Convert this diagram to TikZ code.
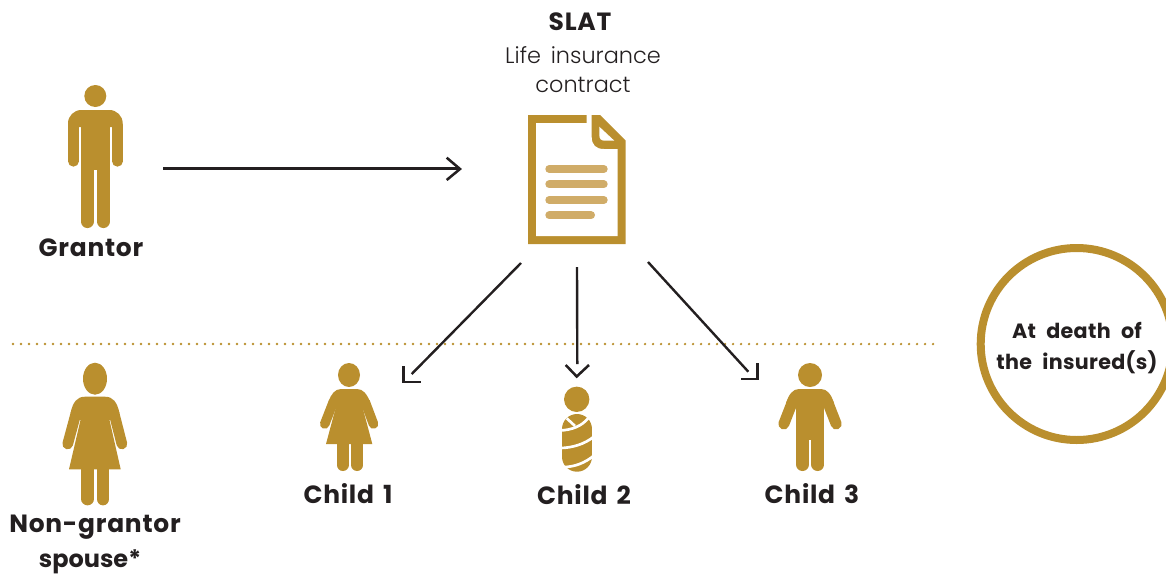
\documentclass[tikz,border=0pt]{standalone}
\usepackage{fontspec}
\setmainfont{Poppins}[LetterSpace=3,WordSpace=1.5]
\newfontfamily\lightf{Poppins Light}[WordSpace=1.6]
\newfontfamily\smallf{Poppins}[LetterSpace=1.5,WordSpace=2.2]
\newfontfamily\tightf{Poppins}
\usetikzlibrary{arrows.meta}
\definecolor{gold}{HTML}{BA8F2E}
\definecolor{paleg}{HTML}{D0AC68}
\definecolor{ink}{HTML}{231F20}
\tikzset{
  x=0.75pt,y=-0.75pt,
  conn/.style={draw=ink,line width=1.8pt},
  tiphead/.style={draw=ink,line width=1.9pt,miter limit=10},
  gfill/.style={fill=gold,draw=none},
  limb/.style={draw=gold,line cap=round,line width=#1*0.75pt},
  wrap/.style={draw=white,line width=2pt},
  bar/.style={draw=paleg,line cap=round,line width=6pt},
  bold label/.style={font=\fontsize{18.7}{22}\selectfont\bfseries,text=ink,inner sep=0pt},
  tight label/.style={font=\tightf\fontsize{18}{22}\selectfont\bfseries,text=ink,inner sep=0pt},
  plain label/.style={font=\lightf\fontsize{16.8}{22}\selectfont,text=ink,inner sep=0pt},
  small label/.style={font=\smallf\fontsize{15.5}{20}\selectfont\bfseries,text=ink,inner sep=0pt},
}
\begin{document}
\begin{tikzpicture}
\useasboundingbox (0,0) rectangle (1166,575);
\clip (0,0) rectangle (1166,575);

% dotted line
\draw[gold,line width=1.9pt,line cap=round,dash pattern=on 0pt off 6pt] (13,344) -- (937,344);

% grantor
\fill[gold] (95.3,96) circle[radius=11*0.75pt];
\fill[gold] (68,127) [rounded corners=10pt] -- (68,110) -- (122.7,110) [sharp corners] -- (122.7,127) -- cycle;
\draw[limb=10.7] (73.35,125) -- (73.35,161.3);
\draw[limb=10.7] (117.35,125) -- (117.35,161.3);
\fill[gold] (80.7,110) rectangle (110,170);
\draw[limb=13.3] (87.35,165) -- (87.35,221.4);
\draw[limb=13.3] (103.35,165) -- (103.35,221.4);

% document
\fill[gold] (528,115) -- (600,115) -- (625.7,140.7) -- (625.7,244) -- (528,244) -- cycle;
\fill[white] (536,123) -- (586.7,123) -- (586.7,115) -- (591.7,115) -- (591.7,137) .. controls (591.7,145) and (596,149) .. (604,149) -- (617.7,149) -- (617.7,236) -- (536,236) -- cycle;
\fill[white] (599.3,126.7) -- (614.3,140.7) -- (605,140.7) .. controls (601,140.7) and (599.3,139) .. (599.3,135) -- cycle;
\draw[bar] (549.3,169) -- (603.7,169);
\draw[bar] (549.3,184.3) -- (603.7,184.3);
\draw[bar] (549.3,200) -- (603.7,200);
\draw[bar] (549.3,215.3) -- (591,215.3);

% woman
\fill[gold] (95,378.7) ellipse[x radius=12*0.75pt,y radius=16*0.75pt];
\fill[gold] (70.5,413) .. controls (73,402) and (77,396.7) .. (85,396.7) -- (105,396.7) .. controls (113,396.7) and (117,402) .. (119.5,413) -- (109.5,420) -- (120.7,469.3) -- (69,469.3) -- (80.5,420) -- cycle;
\draw[limb=10.7] (75.8,414) -- (67.7,444);
\draw[limb=10.7] (114.2,414) -- (121.9,444);
\draw[limb=12.7] (87.65,465) -- (87.65,499);
\draw[limb=12.7] (103,465) -- (103,499);

% child 1
\fill[gold] (349,375) ellipse[x radius=11*0.75pt,y radius=12*0.75pt];
\fill[gold] (328.5,402) .. controls (331,394) and (335,389) .. (341,389) -- (357,389) .. controls (363,389) and (367,394) .. (370,402) -- (362.4,406.7) -- (372.3,444) -- (326,444) -- (336,406.7) -- cycle;
\draw[limb=9.6] (333.3,402) -- (324.7,424);
\draw[limb=9.6] (365.2,402) -- (373.5,424);
\draw[limb=12] (342.7,440) -- (342.7,465);
\draw[limb=12] (357.2,440) -- (357.2,465);

% child 2
\fill[gold] (576.7,399.3) circle[radius=12.7*0.75pt];
\draw[limb=30] (577,429) -- (577,456.7);
\draw[wrap] (566.7,418.3) -- (575,426);
\draw[wrap] (560,430.5) .. controls (572,430) and (582,426) .. (588.3,418);
\draw[wrap] (560,448) .. controls (572,448) and (585,444) .. (594,436.5);
\draw[wrap] (564,467) .. controls (574,467) and (585,463) .. (594,455.5);

% child 3
\fill[gold] (810,375) circle[radius=12*0.75pt];
\fill[gold] (786,403) .. controls (789,394) and (793,389) .. (799,389) -- (821,389) .. controls (827,389) and (831,394) .. (834,403) -- (824,406) -- (796,406) -- cycle;
\draw[limb=11] (792,403) -- (783.8,424);
\draw[limb=11] (828,403) -- (836.2,424);
\fill[gold] (796,395) rectangle (824,440);
\draw[limb=13] (802.5,430) -- (802.5,464.5);
\draw[limb=13] (817.8,430) -- (817.8,464.5);

% circle
\node[circle,draw=gold,line width=6pt,minimum size=192*0.75pt,inner sep=0pt] (ring) at (1076.7,344) {};
\node[small label,align=center] (ringtext) at (1077,348) {At death of\\[3pt]the insured(s)};

% labels
\node[bold label] (slat) at (580,22) {SLAT};
\node[plain label] (life) at (583,55) {Life insurance};
\node[plain label] (contract) at (583,84.5) {contract};
\node[bold label] (grantor) at (91,248) {Grantor};
\node[bold label] (child1) at (348,494) {Child 1};
\node[bold label] (child2) at (584,495) {Child 2};
\node[bold label] (child3) at (812,494) {Child 3};
\node[bold label] (ngs1) at (95,527) {Non-grantor};
\node[tight label] (ngs2) at (90,562) {spouse*};

% connectors
\coordinate (mainA) at (163,168.5);
\coordinate (mainB) at (459,168.5);
\coordinate (docL) at (521,263);
\coordinate (docM) at (577,267);
\coordinate (docR) at (648,262);
\coordinate (c1end) at (411.7,374);
\coordinate (c2end) at (577.3,364);
\coordinate (c3end) at (748.3,371.7);
\draw[conn] (mainA) -- (mainB);
\draw[tiphead] (446.7,157.7) -- (460,169) -- (446.7,180);
\draw[conn] (docL) -- (c1end);
\draw[tiphead] (403.3,366) -- (403.3,382) -- (420.7,382);
\draw[conn] (docM) -- (c2end);
\draw[tiphead] (565.7,365) -- (576.7,376.5) -- (589,365);
\draw[conn] (docR) -- (c3end);
\draw[tiphead] (741,379) -- (757.7,379) -- (757.7,363);
\end{tikzpicture}
\end{document}
